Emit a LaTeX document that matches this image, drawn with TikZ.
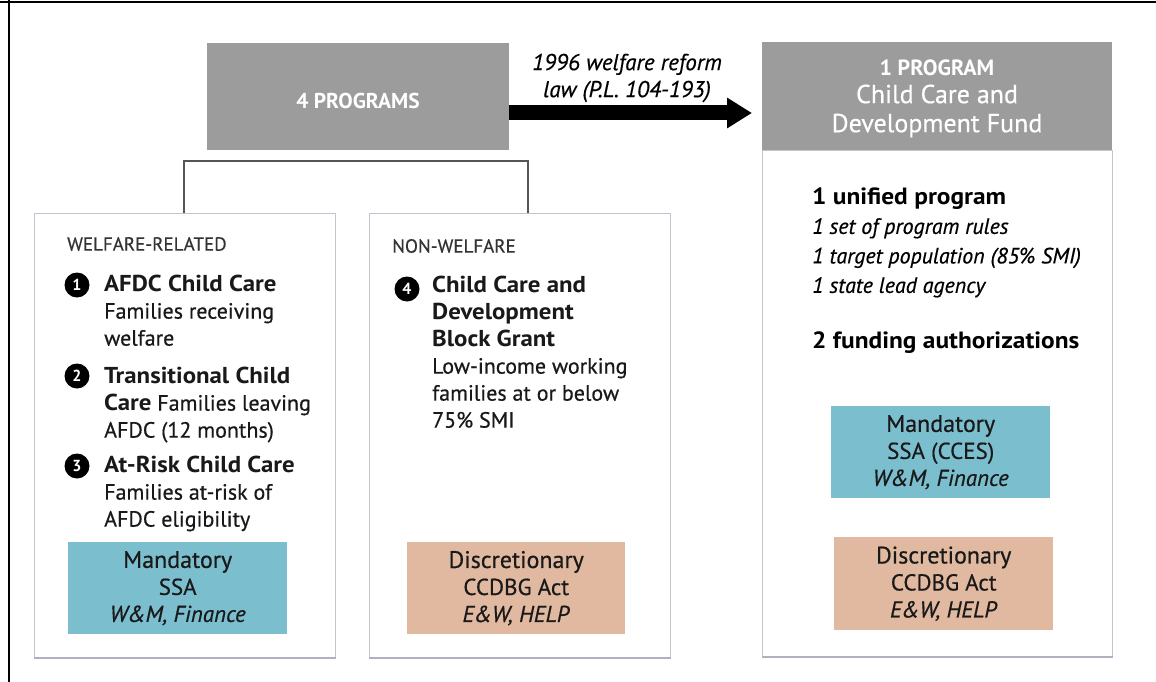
\documentclass[tikz,border=0pt]{standalone}
\usepackage{fontspec}
\setmainfont{PT Sans}[UprightFeatures={FakeBold=0.5},ItalicFeatures={FakeBold=0.5},BoldFeatures={FakeStretch=1.08}]
\newfontfamily\hdrfont{PT Sans}
\usetikzlibrary{arrows.meta}
\definecolor{hdrgray}{HTML}{9C9C9C}
\definecolor{mandcol}{HTML}{7BBFCF}
\definecolor{disccol}{HTML}{E1B9A0}
\definecolor{boxline}{HTML}{C4C4D0}
\definecolor{boxshadow}{HTML}{B0B0C0}
\definecolor{txtgray}{HTML}{333333}
\definecolor{brackcol}{HTML}{555555}
\newcommand\bodyfs{\fontsize{22}{27}\selectfont}
\newcommand\itemhead[1]{{\fontsize{23}{27}\selectfont\bfseries #1}}
\begin{document}
\begin{tikzpicture}[x=1pt,y=-1pt,
  panel/.style={draw=boxline,line width=1.2pt,fill=white},
  header/.style={fill=hdrgray,draw=none},
  mandbox/.style={fill=mandcol,draw=none},
  discbox/.style={fill=disccol,draw=none},
  cattext/.style={anchor=west,inner sep=0pt,font=\fontsize{19}{22}\selectfont,text=txtgray},
  itemtext/.style={anchor=north west,inner sep=0pt,align=left,font=\bodyfs,text=black!90},
  bullet/.style={circle,fill=black,inner sep=0pt,minimum size=25pt,text=white,font=\hdrfont\fontsize{16}{16}\selectfont\bfseries},
  fundtext/.style={align=center,inner sep=0pt,font=\fontsize{23}{27}\selectfont,text=black!90},
  hdrtext/.style={align=center,inner sep=0pt,text=white},
  bracket/.style={draw=brackcol,line width=1.3pt},
  bigarrow/.style={line width=15pt,-{Triangle[length=25pt,width=29pt]}}
]
\useasboundingbox (0,0) rectangle (1156,682);
\fill[white] (0,0) rectangle (1156,682);
% outer frame (top and left only)
\draw[line width=2pt,black] (0,2) -- (1156,2);
\draw[line width=2pt,black] (9,0) -- (9,682);

% 4 programs box
\node[header,minimum width=302pt,minimum height=107pt,anchor=north west] (four) at (207,43) {};
\node[hdrtext,font=\hdrfont\fontsize{21.5}{24}\selectfont\bfseries] (fourlbl) at (358,101) {4 PROGRAMS};

% right panel
\node[panel,minimum width=350pt,minimum height=506pt,anchor=north west] (rbody) at (762,150) {};
\draw[boxshadow,line width=1.6pt] (rbody.south west) -- (rbody.south east);
\node[header,minimum width=350pt,minimum height=108pt,anchor=north west] (rhead) at (762,42) {};
\node[hdrtext,font=\hdrfont\fontsize{22}{24}\selectfont\bfseries] (onepro) at (937,68) {1 PROGRAM};
\node[hdrtext,font=\fontsize{26}{29}\selectfont] (ccdf) at (937,111) {Child Care and\\Development Fund};

% arrow
\draw[bigarrow] (four.east |- 0,113) -- ([xshift=-10pt]rhead.west |- 0,113);
\node[inner sep=0pt,align=center,font=\fontsize{23}{27}\selectfont\itshape] (law) at (627,78) {1996 welfare reform\\law (P.L. 104-193)};

% left panel
\node[panel,minimum width=301pt,minimum height=444pt,anchor=north west] (left) at (34,213) {};
\draw[boxshadow,line width=1.6pt] (left.south west) -- (left.south east);
% middle panel
\node[panel,minimum width=301pt,minimum height=444pt,anchor=north west] (mid) at (369,213) {};
\draw[boxshadow,line width=1.6pt] (mid.south west) -- (mid.south east);

% bracket
\coordinate (brL) at (184,161);
\coordinate (brR) at (528,161);
\draw[bracket] (left.north -| brL) -- (brL) -- (brR) -- (mid.north -| brR);

% left panel contents
\node[cattext] (wrel) at (67,244) {WELFARE-RELATED};
\node[bullet] (b1) at (77,285) {1};
\node[itemtext] (i1) at (104,275) {\itemhead{AFDC Child Care}\\Families receiving\\welfare};
\node[bullet] (b2) at (77,376) {2};
\node[itemtext] (i2) at (104,367) {\itemhead{Transitional Child}\\\itemhead{Care} Families leaving\\AFDC (12 months)};
\node[bullet] (b3) at (77,466) {3};
\node[itemtext] (i3) at (104,456) {\itemhead{At-Risk Child Care}\\Families at-risk of\\AFDC eligibility};
\node[mandbox,minimum width=219pt,minimum height=92pt,anchor=north west] (mandL) at (68,542) {};
\node[fundtext] (mandLt) at (mandL.center) {{\fontsize{24}{27}\selectfont Mandatory}\\SSA\\\textit{W\&M, Finance}};

% middle panel contents
\node[cattext] (nwel) at (392,246) {NON-WELFARE};
\node[bullet] (b4) at (407,289) {4};
\node[itemtext] (i4) at (432,276) {\itemhead{Child Care and}\\\itemhead{Development}\\\itemhead{Block Grant}\\Low-income working\\families at or below\\75\% SMI};
\node[discbox,minimum width=218pt,minimum height=92pt,anchor=north west] (discM) at (407,542) {};
\node[fundtext] (discMt) at (discM.center) {{\fontsize{24}{27}\selectfont Discretionary}\\CCDBG Act\\\textit{E\&W, HELP}};

% right panel contents
\node[anchor=west,inner sep=0pt,font=\fontsize{23.5}{27}\selectfont\bfseries] (unif) at (812,199) {1 unified program};
\node[anchor=north west,inner sep=0pt,align=left,font=\fontsize{22}{29.5}\selectfont\itshape] (rules) at (812,218) {1 set of program rules\\1 target population (85\% SMI)\\1 state lead agency};
\node[anchor=west,inner sep=0pt,font=\fontsize{23.5}{27}\selectfont\bfseries] (fund) at (812,343) {2 funding authorizations};
\node[mandbox,minimum width=219pt,minimum height=92pt,anchor=north west] (mandR) at (831,406) {};
\node[fundtext] (mandRt) at (mandR.center) {{\fontsize{24}{27}\selectfont Mandatory}\\SSA (CCES)\\\textit{W\&M, Finance}};
\node[discbox,minimum width=219pt,minimum height=93pt,anchor=north west] (discR) at (834,537) {};
\node[fundtext] (discRt) at (discR.center) {{\fontsize{24}{27}\selectfont Discretionary}\\CCDBG Act\\\textit{E\&W, HELP}};
\end{tikzpicture}
\end{document}
